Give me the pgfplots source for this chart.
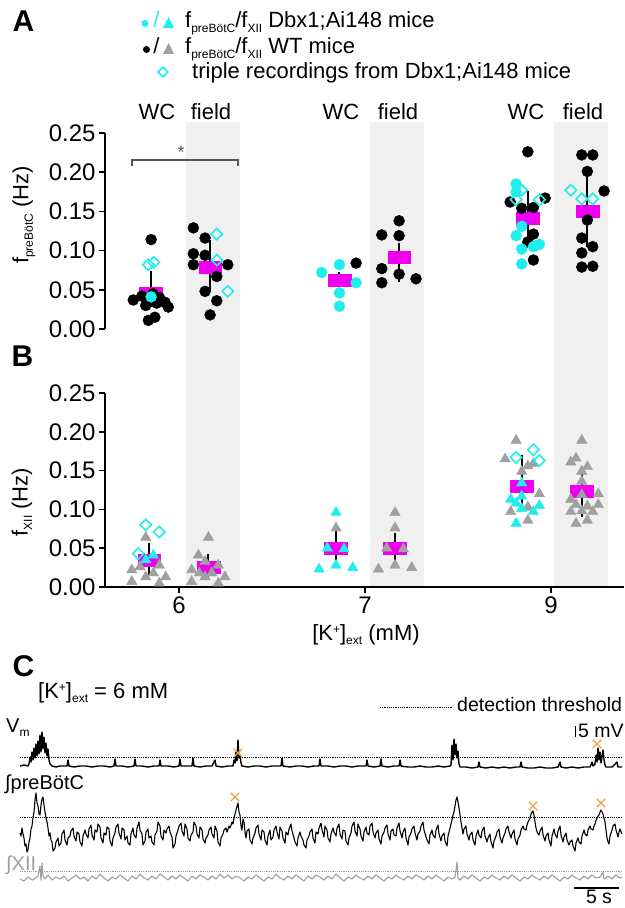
\documentclass[border=0pt]{standalone}
\usepackage{pgfplots}
\pgfplotsset{compat=1.18}
\usepackage{fontspec}
\setmainfont{Liberation Sans}
\definecolor{cyanc}{RGB}{32,238,238}
\definecolor{magc}{RGB}{238,0,238}
\definecolor{grayt}{RGB}{160,160,160}
\definecolor{bandc}{RGB}{240,240,240}
\definecolor{orangex}{RGB}{240,160,64}
\definecolor{brk}{RGB}{85,85,85}
\newcommand{\fs}[1]{\fontsize{#1bp}{#1bp}\selectfont}
\newcommand{\sub}[1]{\raisebox{-4.5bp}{\fs{12}#1}}
\newcommand{\sups}[1]{\raisebox{7bp}{\fs{12}#1}}
\begin{document}
\begin{tikzpicture}
% ---------------- overlay (pixel coordinates) ----------------
\begin{axis}[at={(0,0)}, anchor=south west, scale only axis, width=625bp, height=908bp,
  xmin=0, xmax=625, ymin=0, ymax=908, y dir=reverse, hide axis, clip=false]
\fill[bandc] (axis cs:186,122) rectangle (axis cs:240,587);
\fill[bandc] (axis cs:370,122) rectangle (axis cs:424,587);
\fill[bandc] (axis cs:554,122) rectangle (axis cs:608,587);
% panel letters
\node[anchor=base west, font={\fs{30}\bfseries}] at (axis cs:9,32) {A};
\node[anchor=base west, font={\fs{30}\bfseries}] at (axis cs:8,366) {B};
\node[anchor=base west, font={\fs{30}\bfseries}] at (axis cs:9,676) {C};
% legend
\fill[cyanc] (axis cs:145,23.5) circle[radius=3.5bp];
\node[anchor=base, font=\fs{22}, text=cyanc] at (axis cs:156.5,28) {/};
\fill[cyanc] (axis cs:163,28) -- (axis cs:174,28) -- (axis cs:168.5,17) -- cycle;
\fill[black] (axis cs:146.5,49.5) circle[radius=3.5bp];
\node[anchor=base, font=\fs{22}] at (axis cs:156.5,54) {/};
\fill[grayt] (axis cs:163,54) -- (axis cs:174,54) -- (axis cs:168.5,43) -- cycle;
\draw[cyanc, line width=1.6bp] (axis cs:163,67) -- (axis cs:168,72) -- (axis cs:163,77) -- (axis cs:158,72) -- cycle;
\node[anchor=base west, font=\fs{22}, inner sep=0pt] at (axis cs:185,28) {f\sub{preBötC}/f\sub{XII} Dbx1;Ai148 mice};
\node[anchor=base west, font=\fs{22}, inner sep=0pt] at (axis cs:185,54) {f\sub{preBötC}/f\sub{XII} WT mice};
\node[anchor=base west, font=\fs{22}, inner sep=0pt] at (axis cs:192,79) {triple recordings from Dbx1;Ai148 mice};
% WC / field
\node[anchor=base, font=\fs{22}] at (axis cs:157,120) {WC};
\node[anchor=base, font=\fs{22}] at (axis cs:211,120) {field};
\node[anchor=base, font=\fs{22}] at (axis cs:341,120) {WC};
\node[anchor=base, font=\fs{22}] at (axis cs:398,120) {field};
\node[anchor=base, font=\fs{22}] at (axis cs:526,120) {WC};
\node[anchor=base, font=\fs{22}] at (axis cs:583,120) {field};
% axis labels
\node[rotate=90, font=\fs{22}] at (axis cs:24,215) {f\sub{preBötC} (Hz)};
\node[rotate=90, font=\fs{22}] at (axis cs:22,502) {f\sub{XII} (Hz)};
\node[anchor=base, font=\fs{22}] at (axis cs:366,640) {[K\sups{+}]\sub{ext} (mM)};
% significance bracket
\draw[brk, line width=1.3bp] (axis cs:132,166) -- (axis cs:132,160) -- (axis cs:238,160) -- (axis cs:238,166);
\node[font=\fs{18}, text=brk] at (axis cs:181,152) {*};
% panel C texts
\node[anchor=base west, font=\fs{22}, inner sep=0pt] at (axis cs:38,698) {[K\sups{+}]\sub{ext} = 6 mM};
\draw[black, line width=0.8bp, dash pattern=on 1.1bp off 1.1bp] (axis cs:380,707) -- (axis cs:452,707);
\node[anchor=base west, font=\fs{19.5}, inner sep=0pt] at (axis cs:457,711) {detection threshold};
\node[anchor=base west, font=\fs{20}, inner sep=0pt] at (axis cs:6,732) {V\sub{m}};
\node[anchor=base west, font=\fs{19.5}, inner sep=0pt] at (axis cs:578,737) {5 mV};
\draw[line width=1bp] (axis cs:575,726) -- (axis cs:575,737);
\node[anchor=base west, font=\fs{20}, inner sep=0pt] at (axis cs:5,789) {∫preBötC};
\node[anchor=base west, font=\fs{20}, inner sep=0pt, text=grayt] at (axis cs:6,870) {∫XII};
\draw[line width=1.2bp] (axis cs:574,888) -- (axis cs:619,888);
\node[anchor=base, font=\fs{19.5}, inner sep=0pt] at (axis cs:599,903) {5 s};
% thresholds
\draw[black, line width=0.8bp, dash pattern=on 1.1bp off 1.1bp] (axis cs:20,757) -- (axis cs:622,757);
\draw[black, line width=0.8bp, dash pattern=on 1.1bp off 1.1bp] (axis cs:20,817) -- (axis cs:622,817);
\draw[grayt, line width=0.8bp, dash pattern=on 1.1bp off 1.1bp] (axis cs:20,871) -- (axis cs:622,871);
% Vm trace
\addplot[black, line width=1.4bp, line join=round] coordinates {
(20,766)(24,765)(28,766)(29,764)(30,757)(31,762)(32,752)(33,760)(34,748)(35,758)(36,744)(37,756)(38,741)(39,754)(40,735)(41,752)(42,732)(43,749)(44,737)(45,753)(46,743)(47,756)(48,749)(49,760)(50,764)(52,766)(56,767)(60,766)(64,766)(67,766)(68,760)(69,766)(74,767)(80,766)(86,766)(92,767)(98,766)(104,766)(110,767)(114,766)(115,759)(116,766)(122,766)(128,767)(134,766)(135,759)(136,766)(142,766)(148,767)(154,766)(159,766)(160,760)(161,766)(168,766)(174,767)(179,766)(180,759)(181,766)(186,766)(192,766)(193,758)(194,766)(200,767)(206,766)(212,766)(215,760)(216,766)(222,767)(228,766)(233,766)(234,760)(235,763)(236,752)(237,761)(238,740)(239,758)(240,755)(241,763)(242,766)(248,767)(254,766)(260,766)(266,767)(272,766)(278,766)(281,766)(282,758)(283,766)(290,767)(296,766)(302,766)(308,767)(314,766)(319,766)(320,759)(321,766)(328,766)(334,767)(340,766)(346,766)(352,767)(358,766)(366,766)(367,760)(368,766)(374,767)(380,766)(381,759)(382,766)(388,767)(394,766)(399,766)(400,760)(401,766)(408,767)(414,767)(420,766)(426,767)(432,767)(438,766)(444,767)(450,766)(451,765)(452,745)(453,760)(454,739)(455,755)(456,744)(457,758)(458,751)(459,764)(460,767)(466,767)(472,768)(478,767)(479,762)(480,767)(486,768)(492,767)(498,768)(504,767)(510,768)(516,767)(520,767)(521,762)(522,767)(528,768)(534,768)(540,767)(546,768)(552,768)(558,767)(560,762)(561,767)(566,768)(572,767)(578,768)(584,767)(590,767)(592,762)(593,766)(595,764)(596,755)(597,762)(598,748)(599,760)(600,752)(601,763)(602,756)(603,750)(604,760)(605,765)(606,767)(612,767)(617,762)(618,767)(622,767)};
% preBotC trace
\addplot[black, line width=1.1bp, line join=round] coordinates {
(20,833)(21,836)(22,828)(23,834)(24,838)(25,846)(26,844)(27,852)(28,850)(29,842)(30,838)(31,829)(32,826)(33,818)(34,812)(35,800)(36,793)(37,803)(38,806)(39,814)(40,815)(41,805)(42,799)(43,797)(44,805)(45,812)(46,818)(47,822)(48,828)(49,836)(50,833)(51,840)(52,842)(53,851)(55,848)(56,842)(58,838)(59,846)(61,843)(62,834)(64,830)(65,840)(67,845)(68,838)(70,836)(71,831)(73,828)(74,836)(76,841)(77,832)(79,834)(80,842)(82,846)(83,836)(85,830)(86,834)(88,838)(89,829)(91,825)(92,835)(94,840)(95,830)(97,832)(98,824)(100,827)(101,838)(103,843)(104,833)(106,835)(107,827)(109,829)(110,841)(112,846)(113,838)(115,833)(116,827)(118,824)(119,833)(121,839)(122,828)(124,830)(125,840)(127,836)(128,843)(130,845)(131,834)(133,828)(134,835)(136,838)(137,828)(139,822)(140,830)(142,834)(143,845)(145,841)(146,832)(148,829)(149,838)(151,836)(152,842)(154,845)(155,835)(157,831)(158,822)(160,826)(161,836)(163,840)(164,830)(166,833)(167,829)(169,826)(170,832)(172,837)(173,848)(175,844)(176,836)(178,830)(179,826)(181,823)(182,831)(184,836)(185,824)(187,829)(188,838)(190,841)(191,835)(193,832)(194,822)(196,826)(197,834)(199,838)(200,827)(202,830)(203,839)(205,843)(206,838)(208,835)(209,830)(211,827)(212,834)(214,838)(215,826)(217,831)(218,842)(220,846)(221,838)(223,834)(224,830)(226,828)(227,832)(229,826)(230,828)(232,822)(233,824)(234,818)(235,814)(236,810)(237,806)(238,803)(239,812)(240,815)(241,826)(242,830)(243,819)(244,822)(245,832)(246,838)(247,831)(249,829)(250,840)(252,844)(253,838)(255,833)(256,828)(258,825)(259,834)(261,840)(262,830)(264,832)(265,840)(267,845)(268,836)(270,830)(271,840)(273,837)(274,830)(276,826)(277,832)(279,839)(280,827)(282,831)(283,838)(285,843)(286,832)(288,835)(289,829)(291,824)(292,831)(294,838)(295,842)(297,846)(298,838)(300,832)(301,836)(303,840)(304,845)(306,848)(307,840)(309,836)(310,832)(312,829)(313,838)(315,843)(316,832)(318,834)(319,828)(321,823)(322,830)(324,837)(325,826)(327,830)(328,838)(330,842)(331,834)(333,828)(334,832)(336,836)(337,828)(339,824)(340,834)(342,839)(343,830)(345,831)(346,841)(348,845)(349,838)(351,833)(352,826)(354,822)(355,831)(357,836)(358,824)(360,829)(361,836)(363,841)(364,832)(366,827)(367,833)(369,835)(370,826)(372,823)(373,832)(375,838)(376,833)(378,830)(379,839)(381,844)(382,836)(384,832)(385,828)(387,825)(388,834)(390,840)(391,831)(393,829)(394,835)(396,836)(397,828)(399,823)(400,831)(402,838)(403,832)(405,828)(406,838)(408,845)(409,837)(411,833)(412,829)(414,826)(415,833)(417,840)(418,834)(420,831)(421,826)(423,822)(424,830)(426,837)(427,840)(429,844)(430,835)(432,830)(433,835)(435,838)(436,830)(438,825)(439,834)(441,841)(442,836)(444,833)(445,841)(447,846)(448,836)(450,828)(451,824)(452,820)(453,815)(454,812)(455,806)(456,800)(457,797)(458,802)(459,808)(460,815)(461,822)(462,828)(463,834)(464,829)(466,826)(467,834)(469,840)(470,835)(472,832)(473,840)(475,845)(476,836)(478,830)(479,835)(481,838)(482,831)(484,827)(485,836)(487,842)(488,838)(490,834)(491,842)(493,848)(494,841)(496,836)(497,832)(499,829)(500,837)(502,843)(503,838)(505,833)(506,829)(508,826)(509,832)(511,838)(512,834)(514,830)(515,839)(517,845)(518,839)(520,835)(521,830)(523,826)(524,829)(526,830)(527,825)(528,822)(529,820)(530,818)(531,814)(532,812)(533,811)(534,815)(535,822)(536,828)(537,832)(539,835)(540,831)(542,827)(543,835)(545,841)(546,836)(548,833)(549,840)(551,846)(552,836)(554,829)(555,834)(557,838)(558,831)(560,826)(561,835)(563,842)(564,837)(566,833)(567,840)(569,845)(570,842)(572,840)(573,846)(575,851)(576,843)(578,838)(579,842)(581,844)(582,836)(584,830)(585,834)(587,836)(588,830)(590,826)(591,829)(593,830)(594,826)(595,824)(596,820)(597,818)(598,816)(599,815)(600,812)(601,810)(602,812)(603,814)(604,818)(605,822)(606,830)(607,838)(608,842)(609,844)(610,836)(612,830)(613,826)(615,824)(616,830)(618,837)(619,832)(620,829)(621,832)(622,834)};
% XII trace
\addplot[grayt, line width=1.1bp, line join=round] coordinates {
(20,879)(24,881)(28,877)(32,880)(36,878)(38,876)(40,866)(41,880)(42,863)(43,876)(45,879)(48,875)(52,880)(56,877)(60,879)(64,876)(68,881)(72,878)(76,875)(80,879)(84,877)(88,881)(92,876)(96,879)(100,874)(104,878)(108,881)(112,877)(116,879)(120,875)(124,878)(128,881)(132,876)(136,879)(140,874)(144,878)(148,880)(152,876)(156,879)(160,874)(164,877)(168,880)(172,876)(176,879)(180,875)(184,878)(188,881)(192,876)(196,879)(200,875)(204,877)(208,880)(212,876)(216,879)(220,874)(224,878)(228,875)(232,879)(236,876)(240,878)(244,881)(248,877)(252,879)(256,875)(260,878)(264,881)(268,877)(272,879)(276,874)(280,878)(284,880)(288,876)(292,879)(296,875)(300,878)(304,881)(308,876)(312,879)(316,875)(320,877)(324,880)(328,876)(332,879)(336,874)(340,878)(344,881)(348,877)(352,879)(356,875)(360,878)(364,880)(368,876)(372,879)(376,875)(380,878)(384,881)(388,877)(392,879)(396,875)(400,878)(404,880)(408,876)(412,879)(416,875)(420,877)(424,880)(428,876)(432,879)(436,875)(440,878)(444,881)(448,877)(452,879)(455,877)(457,862)(458,878)(460,880)(464,876)(468,879)(472,875)(476,878)(480,881)(484,877)(488,879)(492,875)(496,878)(500,880)(504,876)(508,879)(512,875)(516,878)(520,881)(524,877)(528,879)(532,875)(536,878)(540,880)(544,876)(548,879)(552,875)(556,878)(560,881)(564,877)(568,879)(572,875)(576,878)(580,880)(584,876)(588,879)(592,875)(596,878)(600,877)(603,872)(604,879)(608,876)(612,879)(616,875)(620,878)(622,877)};
% detected events
\addplot[only marks, mark=x, mark size=6bp, orangex, mark options={line width=1.3bp}] coordinates {(238,753)(597,744)(235,797)(533,806)(601,803)};
\end{axis}
% ---------------- panel A ----------------
\begin{axis}[at={(105bp,579bp)}, anchor=south west, scale only axis, width=519bp, height=196bp,
  xmin=-0.398, xmax=2.392, ymin=0, ymax=0.25, axis x line=none, axis y line=left,
  axis line style={-, line width=1.5bp}, ytick={0,0.05,0.1,0.15,0.2,0.25},
  yticklabel style={/pgf/number format/.cd, fixed, fixed zerofill, precision=2, assume math mode=true},
  tick style={line width=1.5bp, black}, major tick length=6bp, tick align=outside,
  ticklabel style={font=\fs{24}}, clip=false]
\addplot[only marks, mark=square*, mark size=6bp, magc, mark options={xscale=1.9}] coordinates {
(-0.152,0.046)(0.167,0.079)(0.862,0.062)(1.183,0.092)(1.875,0.141)(2.195,0.150)};
\addplot[black, line width=2bp, unbounded coords=jump] coordinates {
(-0.152,0.028)(-0.152,0.074)(-0.152,nan)(0.167,0.047)(0.167,0.113)(0.167,nan)
(0.862,0.054)(0.862,0.073)(0.862,nan)(1.183,0.060)(1.183,0.110)(1.183,nan)
(1.875,0.110)(1.875,0.176)(1.875,nan)(2.195,0.105)(2.195,0.195)};
% WT (black)
\addplot[only marks, mark=*, mark size=5.5bp, black] coordinates {
(-0.150,0.114)(-0.246,0.037)(-0.200,0.042)(-0.179,0.030)(-0.140,0.045)(-0.120,0.033)(-0.075,0.034)(-0.058,0.028)(-0.165,0.011)(-0.130,0.015)(-0.105,0.040)
(0.077,0.129)(0.140,0.116)(0.077,0.096)(0.140,0.094)(0.077,0.082)(0.262,0.082)(0.203,0.067)(0.140,0.048)(0.203,0.036)(0.167,0.018)
(0.952,0.084)
(1.183,0.138)(1.090,0.120)(1.183,0.119)(1.090,0.077)(1.183,0.070)(1.090,0.059)(1.274,0.064)
(1.875,0.226)(1.780,0.162)(1.968,0.167)(1.842,0.154)(1.905,0.155)(1.905,0.121)(1.875,0.111)(1.905,0.088)
(2.165,0.222)(2.224,0.222)(2.195,0.201)(2.285,0.176)(2.195,0.139)(2.165,0.116)(2.224,0.105)(2.165,0.097)(2.165,0.079)(2.224,0.080)};
% Dbx1;Ai148 (cyan)
\addplot[only marks, mark=*, mark size=5.5bp, cyanc] coordinates {
(-0.150,0.041)
(0.767,0.072)(0.862,0.082)(0.952,0.059)(0.862,0.046)(0.862,0.029)
(1.812,0.185)(1.812,0.175)(1.842,0.131)(1.812,0.119)(1.842,0.102)(1.905,0.105)(1.937,0.108)(1.842,0.083)};
% triple recordings
\addplot[only marks, mark=square, mark size=4bp, cyanc, mark options={rotate=45, line width=1.6bp, fill=none}] coordinates {
(-0.165,0.082)(-0.136,0.085)(0.203,0.121)(0.203,0.088)(0.262,0.048)
(1.842,0.177)(1.812,0.165)(1.937,0.165)(2.106,0.177)(2.165,0.166)(2.224,0.166)};
\end{axis}
% ---------------- panel B ----------------
\begin{axis}[at={(105bp,321bp)}, anchor=south west, scale only axis, width=519bp, height=194bp,
  xmin=-0.398, xmax=2.392, ymin=0, ymax=0.25, axis x line=bottom, axis y line=left,
  axis line style={-, line width=1.5bp}, ytick={0,0.05,0.1,0.15,0.2,0.25},
  xtick={0,1,2}, xticklabels={6,7,9},
  yticklabel style={/pgf/number format/.cd, fixed, fixed zerofill, precision=2, assume math mode=true},
  tick style={line width=1.5bp, black}, major tick length=6bp, tick align=outside,
  ticklabel style={font=\fs{24}}, clip=false]
\addplot[only marks, mark=square*, mark size=6bp, magc, mark options={xscale=1.9}] coordinates {
(-0.160,0.035)(0.158,0.026)(0.844,0.050)(1.161,0.050)(1.842,0.130)(2.165,0.123)};
\addplot[black, line width=2bp, unbounded coords=jump] coordinates {
(-0.160,0.015)(-0.160,0.057)(-0.160,nan)(0.158,0.012)(0.158,0.043)(0.158,nan)
(0.844,0.028)(0.844,0.076)(0.844,nan)(1.161,0.030)(1.161,0.069)(1.161,nan)
(1.842,0.100)(1.842,0.170)(1.842,nan)(2.165,0.090)(2.165,0.150)};
% WT (grey triangles)
\addplot[only marks, mark=triangle*, mark size=6bp, grayt] coordinates {
(-0.179,0.064)(-0.254,0.022)(-0.210,0.026)(-0.106,0.028)(-0.179,0.013)(-0.138,0.018)(-0.072,0.013)(-0.254,0.007)(-0.106,0.005)
(0.158,0.064)(0.104,0.041)(0.068,0.022)(0.140,0.033)(0.211,0.028)(0.109,0.018)(0.176,0.018)(0.140,0.013)(0.247,0.013)(0.068,0.007)(0.211,0.005)
(0.844,0.076)
(1.161,0.096)(1.161,0.076)(1.116,0.050)(1.206,0.049)(1.161,0.028)(1.072,0.023)(1.251,0.025)
(1.812,0.189)(1.753,0.165)(1.875,0.156)(1.905,0.159)(1.842,0.149)(1.937,0.120)(1.783,0.097)(1.875,0.103)(1.875,0.086)
(2.165,0.189)(2.106,0.161)(2.134,0.166)(2.195,0.155)(2.165,0.149)(2.165,0.136)(2.254,0.120)(2.106,0.113)(2.165,0.119)(2.134,0.106)(2.195,0.104)(2.254,0.106)(2.106,0.097)(2.165,0.098)(2.224,0.097)(2.195,0.086)(2.134,0.082)};
% Dbx1;Ai148 (cyan triangles)
\addplot[only marks, mark=triangle*, mark size=6bp, cyanc] coordinates {
(-0.179,0.035)(-0.138,0.041)
(0.844,0.096)(0.797,0.050)(0.887,0.049)(0.844,0.028)(0.753,0.023)(0.934,0.025)
(1.842,0.134)(1.842,0.117)(1.783,0.113)(1.812,0.108)(1.842,0.101)(1.905,0.097)(1.937,0.105)(1.812,0.082)};
% triple recordings
\addplot[only marks, mark=square, mark size=4bp, cyanc, mark options={rotate=45, line width=1.6bp, fill=none}] coordinates {
(-0.179,0.080)(-0.106,0.071)(-0.219,0.043)
(1.905,0.177)(1.812,0.167)(1.937,0.163)};
\end{axis}
\pgfresetboundingbox
\useasboundingbox (0,0) rectangle (625bp,908bp);
\end{tikzpicture}
\end{document}
